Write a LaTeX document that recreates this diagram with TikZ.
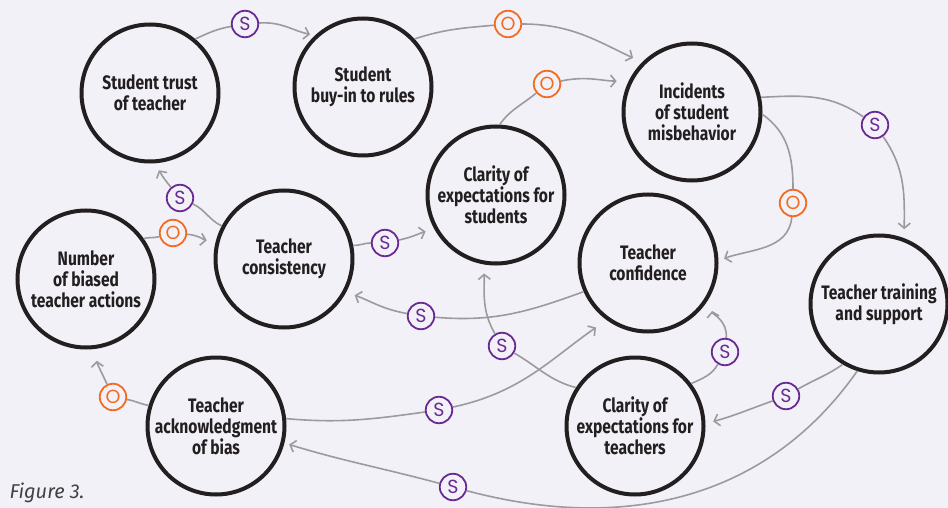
\documentclass[tikz,border=0pt]{standalone}
\usepackage{fontspec}
\setmainfont{Fira Sans}
\newfontfamily\factorfont[FakeStretch=0.8]{Fira Sans}
\newfontfamily\signfont{Poppins}
\usetikzlibrary{arrows.meta}
\definecolor{paper}{HTML}{F3F1F8}
\definecolor{ink}{HTML}{231F20}
\definecolor{linkgray}{HTML}{9B9B9E}
\definecolor{samecol}{HTML}{6A2A93}
\definecolor{oppcol}{HTML}{F26B22}
\tikzset{
    factor/.style={circle, draw=ink, line width=4pt, fill=paper, minimum size=137pt, inner sep=0pt,
        align=center, text=ink, font=\factorfont\bfseries\fontsize{19.5}{21}\selectfont},
    sign/.style={circle, line width=1.8pt, minimum size=26.5pt, inner sep=0pt, fill=paper,
        font=\signfont\fontsize{19}{19}\selectfont},
    same/.style={sign, draw=samecol, text=samecol},
    opp/.style={sign, draw=oppcol, text=oppcol},
    link/.style={draw=linkgray, line width=1.6pt, -{Straight Barb[length=5pt,width=12pt]}},
}
\begin{document}
\begin{tikzpicture}[x=1pt, y=1pt]
    \fill[paper, use as bounding box] (0,0) rectangle (948,-508);
    \node (trust) [factor] at (150,-93) {Student trust\\of teacher};
    \node (buyin) [factor] at (363,-87) {Student\\buy-in to rules};
    \node (incid) [factor] at (692,-112) {Incidents\\of student\\misbehavior};
    \node (clarS) [factor] at (496,-195) {Clarity of\\expectations for\\students};
    \node (conf) [factor] at (648,-263) {Teacher\\confidence};
    \node (cons) [factor] at (284,-259) {Teacher\\consistency};
    \node (biased) [factor] at (86,-279) {Number\\of biased\\teacher actions};
    \node (ack) [factor] at (216,-426) {Teacher\\acknowledgment\\of bias};
    \node (clarT) [factor] at (635,-426) {Clarity of\\expectations for\\teachers};
    \node (train) [factor] at (879,-304) {Teacher training\\and support};

    \node (m1) [same] at (245,-24) {S};
    \node (m2) [opp] at (508,-24) {O};
    \node (m3) [opp] at (547,-84) {O};
    \node (m4) [same] at (875,-125) {S};
    \node (m5) [opp] at (793,-203) {O};
    \node (m6) [same] at (180,-198) {S};
    \node (m7) [opp] at (173,-233) {O};
    \node (m8) [same] at (385,-243) {S};
    \node (m9) [same] at (421,-316) {S};
    \node (m10) [opp] at (113,-397) {O};
    \node (m11) [same] at (439,-410) {S};
    \node (m12) [same] at (502,-346) {S};
    \node (m13) [same] at (725,-352) {S};
    \node (m14) [same] at (786,-396) {S};
    \node (m15) [same] at (453,-487) {S};

    \draw[link, shorten >=5pt] (trust.50) to[out=25,in=190] (m1) to[out=4,in=168] (buyin.133);
    \draw[link, shorten >=10pt] (buyin.43) to[out=18,in=185] (m2) to[out=0,in=155] (incid.135);
    \draw[link, shorten >=12pt] (clarS.87) to[out=55,in=220] (m3) to[out=12,in=180] (incid.154);
    \draw[link, shorten >=9pt] (incid.12) to[out=3,in=145] (m4) to[out=-55,in=90] (train.69);
    \draw[link, shorten >=6pt] (incid.-2) to[out=-35,in=90] (m5) to[out=-95,in=20] (conf.2);
    \draw[link, shorten >=8pt] (cons.152) to[out=155,in=-25] (m6) to[out=130,in=-60] (trust.-86);
    \draw[link, shorten >=9pt] (biased.35) to[out=15,in=195] (m7) to[out=-5,in=170] (cons.166);
    \draw[link, shorten >=9pt] (cons.11) to[out=0,in=180] (m8) to[out=12,in=195] (clarS.209);
    \draw[link, shorten >=9pt] (conf.204) to[out=200,in=-5] (m9) to[out=170,in=-20] (cons.-28);
    \draw[link, shorten >=12pt] (ack.163) to[out=170,in=-10] (m10) to[out=115,in=-85] (biased.-82);
    \draw[link, shorten >=13pt] (ack.6) to[out=-5,in=188] (m11) to[out=12,in=215] (conf.234);
    \draw[link, shorten >=9pt] (clarT.147) to[out=165,in=-30] (m12) to[out=120,in=-88] (clarS.-100);
    \draw[link, shorten >=14pt] (clarT.37) to[out=25,in=-120] (m13) to[out=85,in=-80] (conf.-29);
    \draw[link, shorten >=8pt] (train.239) to[out=215,in=30] (m14) to[out=200,in=15] (clarT.2);
    \draw[link, shorten >=5pt] (train.252) to[out=235,in=-15] (m15) to[out=165,in=-17] (ack.-14);

    \node (cap) [anchor=base west, text=ink!85, font=\itshape\fontsize{20}{20}\selectfont] at (6,-498) {Figure 3.};
\end{tikzpicture}
\end{document}
